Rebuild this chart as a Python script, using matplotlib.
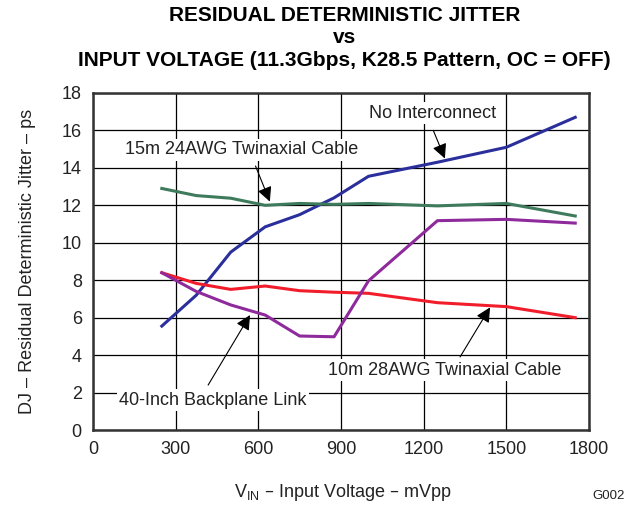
import matplotlib
matplotlib.use("Agg")
import matplotlib.pyplot as plt

plt.rcParams["font.family"] = ["Liberation Sans", "DejaVu Sans"]

# input voltage, mVpp
vin = [250, 375, 500, 625, 750, 875, 1000, 1250, 1500, 1750]

# residual deterministic jitter, ps
no_interconnect = [5.55, 7.2, 9.5, 10.85, 11.5, 12.4, 13.55, 14.3, 15.1, 16.7]
twinax_15m = [12.9, 12.52, 12.38, 12.0, 12.1, 12.05, 12.1, 11.97, 12.1, 11.43]
twinax_10m = [8.4, 7.83, 7.51, 7.69, 7.44, 7.36, 7.3, 6.8, 6.59, 6.0]
backplane_40in = [8.4, 7.4, 6.68, 6.14, 5.02, 4.98, 7.97, 11.18, 11.25, 11.05]

x_ticks = [0, 300, 600, 900, 1200, 1500, 1800]
y_ticks = list(range(0, 19, 2))

fig = plt.figure(figsize=(6.32, 5.08), dpi=100)
ax = fig.add_axes([0.147, 0.1535, 0.785, 0.6635])

ax.plot(vin, no_interconnect, color="#2B2F9C", lw=2.2, zorder=4)
ax.plot(vin, twinax_15m, color="#3E7B5C", lw=2.2, zorder=4)
ax.plot(vin, twinax_10m, color="#F21D2B", lw=2.2, zorder=4)
ax.plot(vin, backplane_40in, color="#8E2A9C", lw=2.2, zorder=4)

ax.set_xlim(0, 1800)
ax.set_ylim(0, 18)
ax.set_xticks(x_ticks)
ax.set_yticks(y_ticks)
ax.tick_params(length=0, labelsize=13, pad=8, labelcolor="#222222")
ax.grid(True, color="black", lw=0.9, zorder=1)
ax.set_axisbelow(True)
for sp in ax.spines.values():
    sp.set_color("#333333")
    sp.set_linewidth(1.8)

# curve labels (white box hides the grid behind them) and pointer arrows
box = dict(facecolor="white", edgecolor="none", pad=1.5)
arrow = dict(arrowstyle="-|>", color="black", lw=0.8, mutation_scale=22,
             shrinkA=0, shrinkB=0)
labels = [
    ("No Interconnect", (1231, 16.93), (1235, 16.0), (1277, 14.5)),
    ("15m 24AWG Twinaxial Cable", (541, 14.96), (590, 14.1), (642, 12.2)),
    ("40-Inch Backplane Link", (435, 1.6), (418, 2.4), (570, 6.14)),
    ("10m 28AWG Twinaxial Cable", (1277, 3.2), (1332, 3.9), (1441, 6.55)),
]
for text, pos, tail, head in labels:
    ax.text(pos[0], pos[1], text, ha="center", va="center", fontsize=13,
            color="#222222", bbox=box, zorder=5)
    ax.annotate("", xy=head, xytext=tail, arrowprops=arrow, zorder=5)

ax.set_xlabel(r"V$_{\mathregular{IN}}$ – Input Voltage – mVpp", fontsize=13,
              color="#222222")
ax.xaxis.set_label_coords(0.504, -0.155)
ax.set_ylabel("DJ – Residual Deterministic Jitter – ps", fontsize=13,
              color="#222222")
ax.yaxis.set_label_coords(-0.115, 0.5)

fig.text(0.545, 0.988, "RESIDUAL DETERMINISTIC JITTER\nvs\n"
         "INPUT VOLTAGE (11.3Gbps, K28.5 Pattern, OC = OFF)",
         ha="center", va="top", fontsize=15, fontweight="bold",
         linespacing=1.22)
fig.text(0.988, 0.012, "G002", ha="right", va="bottom", fontsize=9.5,
         color="#222222")

fig.savefig("out.png", dpi=100)
